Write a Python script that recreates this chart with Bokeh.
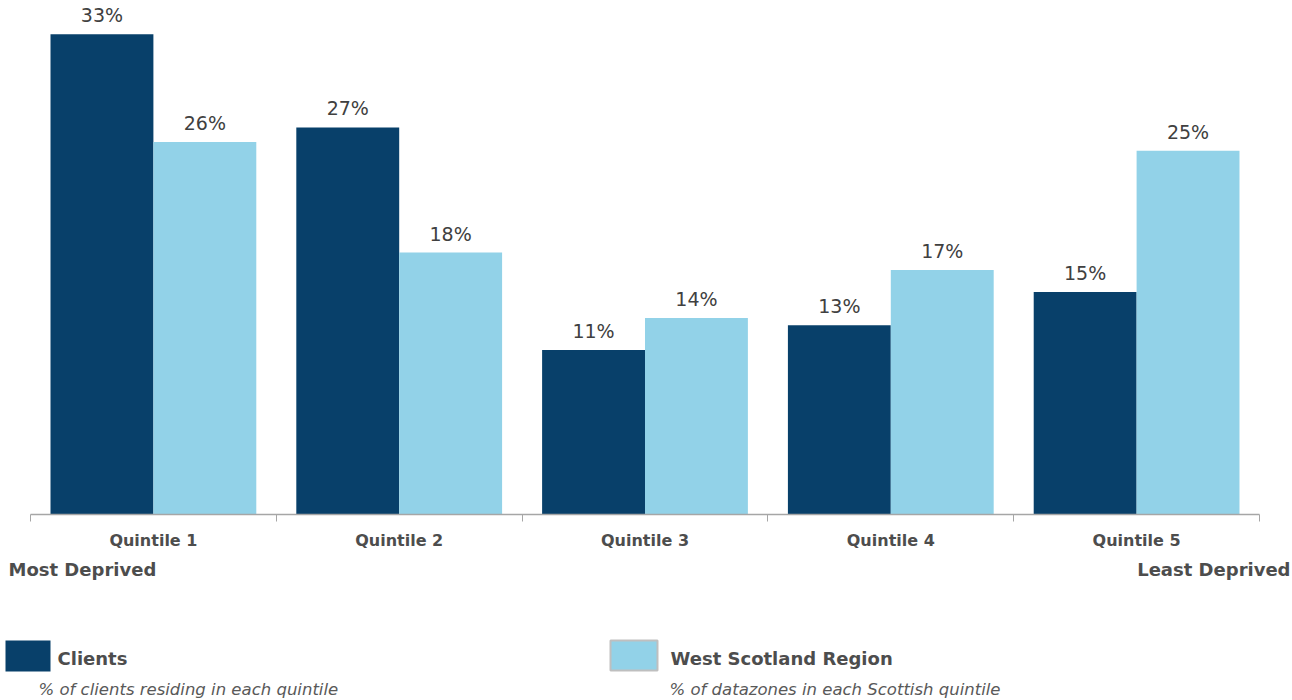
from bokeh.plotting import figure
from bokeh.layouts import column
from bokeh.models import (ColumnDataSource, Range1d, LinearAxis, FixedTicker, LabelSet)
from bokeh.core.properties import value
from bokeh.embed import file_html
from bokeh.resources import INLINE

# ---- data ----
quintiles = ["Quintile 1", "Quintile 2", "Quintile 3", "Quintile 4", "Quintile 5"]
clients = [33.0, 26.6, 11.3, 13.0, 15.3]
west_scotland = [25.6, 18.0, 13.5, 16.8, 25.0]
clients_labels = ["33%", "27%", "11%", "13%", "15%"]
west_labels = ["26%", "18%", "14%", "17%", "25%"]
series_names = ["Clients", "West Scotland Region"]
series_notes = ["% of clients residing in each quintile",
                "% of datazones in each Scottish quintile"]

DARK = "#08406a"
LIGHT = "#92d2e8"
TXT = "#4d4d4d"
FONT = "DejaVu Sans"

W = 1292
H1, H2 = 560, 140
X0, XW = 30, 1229             # px of x=0 and width of 5 categories
Y0, YPX = 514, 14.55          # px of baseline, px per percent

p = figure(width=W, height=H1, output_backend="svg", toolbar_location=None,
           x_range=Range1d(0, 5), y_range=Range1d(0, Y0 / YPX),
           min_border_left=X0, min_border_right=W - X0 - XW,
           min_border_top=0, min_border_bottom=H1 - Y0,
           outline_line_color=None, x_axis_type=None, y_axis_type=None)
p.grid.visible = False
p.frame_align = False

bw = 0.4186
idx = list(range(len(quintiles)))
src = ColumnDataSource(dict(
    xc=[i + 0.5 - bw / 2 for i in idx],
    xw=[i + 0.5 + bw / 2 for i in idx],
    clients=clients, west=west_scotland,
    cl=clients_labels, wl=west_labels))

p.vbar(x="xc", top="clients", width=bw, source=src, fill_color=DARK, line_color=None)
p.vbar(x="xw", top="west", width=bw, source=src, fill_color=LIGHT, line_color=None)

for col, top, txt in (("xc", "clients", "cl"), ("xw", "west", "wl")):
    p.add_layout(LabelSet(x=col, y=top, text=txt, source=src,
                          y_offset=8, text_align="center", text_baseline="bottom",
                          text_font=value(FONT), text_font_size=value("19px"),
                          text_color=value("#404040")))

ticker = FixedTicker(ticks=[i + 0.5 for i in idx],
                     minor_ticks=list(range(len(quintiles) + 1)))
ax = LinearAxis(ticker=ticker,
                major_label_overrides={i + 0.5: q for i, q in zip(idx, quintiles)},
                major_tick_out=0, major_tick_in=0,
                minor_tick_out=7, minor_tick_in=0,
                minor_tick_line_color="#a6a6a6",
                axis_line_color="#a6a6a6", axis_line_width=1.5,
                major_label_standoff=9,
                major_label_text_font=FONT, major_label_text_font_size="16px",
                major_label_text_font_style="bold", major_label_text_color=TXT)
p.add_layout(ax, "below")

# ---- lower panel: end notes and legend (data units = page pixels) ----
q = figure(width=W, height=H2, output_backend="svg", toolbar_location=None,
           x_range=Range1d(0, W), y_range=Range1d(H1 + H2, H1),
           min_border=0, outline_line_color=None,
           x_axis_type=None, y_axis_type=None)
q.grid.visible = False
q.frame_align = False

def txt(t, x, y, align="left", size="18px", style="bold", color=TXT):
    q.text(x=[x], y=[y], text=[t], text_align=align, text_baseline="middle",
           text_font=value(FONT), text_font_size=size, text_font_style=style,
           text_color=color)

txt("Most Deprived", 8, 569)
txt("Least Deprived", 1290, 569, align="right")

q.quad(left=[5], right=[50], top=[640], bottom=[671], fill_color=DARK, line_color=None)
q.quad(left=[610], right=[657], top=[640], bottom=[670], fill_color=LIGHT,
       line_color="#bfbfbf", line_width=2)
txt(series_names[0], 57, 658)
txt(series_names[1], 670, 658)
txt(series_notes[0], 38, 689, size="16.5px", style="italic", color="#595959")
txt(series_notes[1], 669, 689, size="16.5px", style="italic", color="#595959")

open("out.html", "w").write(file_html(column(p, q), INLINE))
